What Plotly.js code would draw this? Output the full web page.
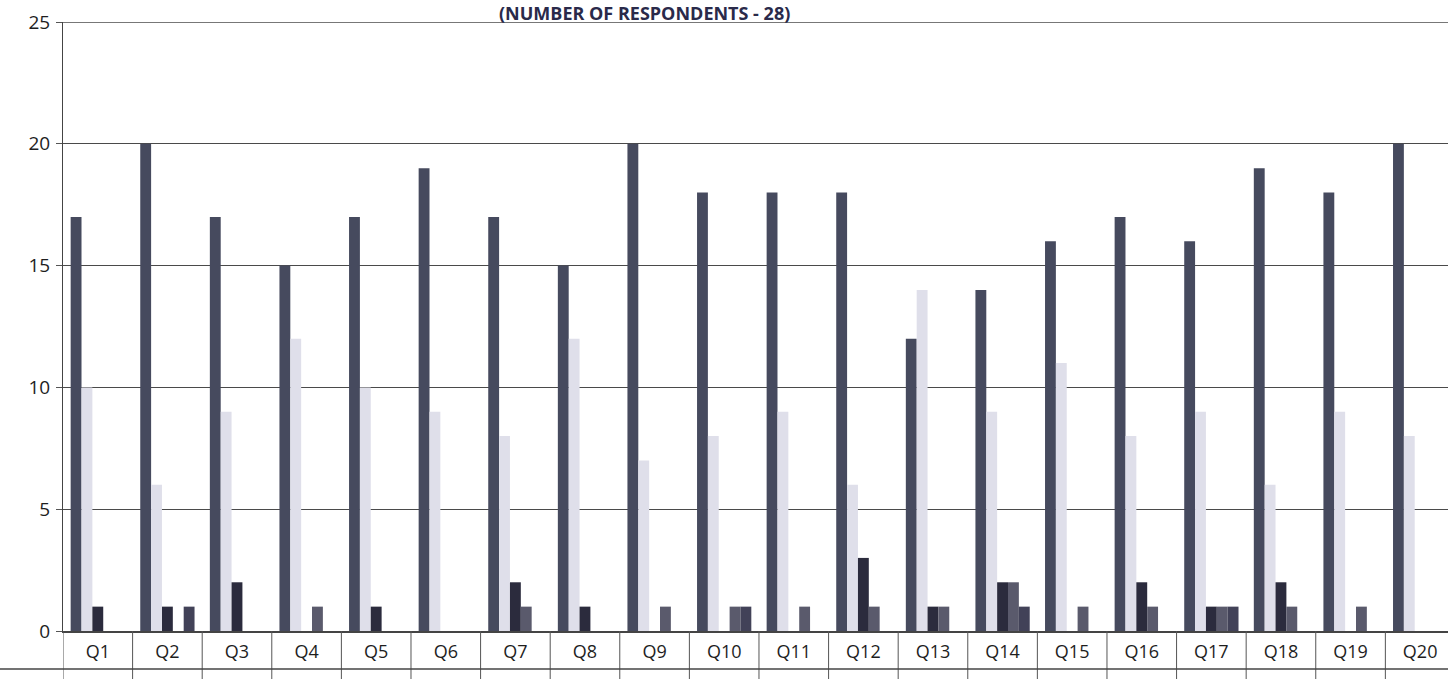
<!DOCTYPE html>
<html>
<head>
<meta charset="utf-8">
<script src="https://cdn.plot.ly/plotly-3.0.1.min.js"></script>
<style>
  html, body { margin: 0; padding: 0; background: #fff; overflow: hidden; }
  #chart { width: 1448px; height: 679px; }
</style>
</head>
<body>
<div id="chart"></div>
<script>
// ---- data ----
const categories = ["Q1","Q2","Q3","Q4","Q5","Q6","Q7","Q8","Q9","Q10",
                    "Q11","Q12","Q13","Q14","Q15","Q16","Q17","Q18","Q19","Q20"];
const seriesA = [17,20,17,15,17,19,17,15,20,18,18,18,12,14,16,17,16,19,18,20];
const seriesB = [10,6,9,12,10,9,8,12,7,8,9,6,14,9,11,8,9,6,9,8];
const seriesC = [1,1,2,0,1,0,2,1,0,0,0,3,1,2,0,2,1,2,0,0];
const seriesD = [0,0,0,1,0,0,1,0,1,1,1,1,1,2,1,1,1,1,1,0];
const seriesE = [0,1,0,0,0,0,0,0,0,1,0,0,0,1,0,0,1,0,0,0];
const yTicks = [0,5,10,15,20,25];
const titleText = "(NUMBER OF RESPONDENTS - 28)";

const colors = ["#464a5e", "#dfdfea", "#2b2b3d", "#5a5a6c", "#424258"];
const allSeries = [seriesA, seriesB, seriesC, seriesD, seriesE];

const traces = allSeries.map((vals, i) => ({
  type: "bar",
  x: categories,
  y: vals,
  marker: { color: colors[i], line: { width: 0 } },
  hoverinfo: "skip"
}));

// table-like dividers under the axis
const shapes = [];
for (let i = -1; i < categories.length; i++) {
  shapes.push({
    type: "line", xref: "x", yref: "paper",
    x0: i + 0.5, x1: i + 0.5, y0: 0, y1: -0.085,
    line: { color: "#555", width: 1 }
  });
}
shapes.push({
  type: "line", xref: "paper", yref: "paper",
  x0: -0.05, x1: 1, y0: -0.0625, y1: -0.0625,
  line: { color: "#444", width: 1.5 }
});
shapes.push({
  type: "line", xref: "paper", yref: "y",
  x0: 0, x1: 1, y0: 25, y1: 25,
  line: { color: "#4a4a4a", width: 1.3 }
});

const layout = {
  width: 1448, height: 679,
  margin: { l: 63, r: 0, t: 22, b: 48, pad: 0 },
  paper_bgcolor: "#ffffff",
  plot_bgcolor: "#ffffff",
  showlegend: false,
  barmode: "group",
  bargap: 0.22,
  bargroupgap: 0,
  font: { family: "Open Sans, Liberation Sans, sans-serif", color: "#222" },
  xaxis: {
    type: "category",
    range: [-0.5, 19.4],
    showgrid: false,
    showline: true, linecolor: "#444", linewidth: 1.5,
    ticks: "", ticklabelstandoff: 4,
    tickfont: { size: 18, color: "#1e1e1e" },
    fixedrange: true
  },
  yaxis: {
    range: [0, 25],
    tickvals: yTicks,
    showgrid: true, gridcolor: "#4a4a4a", gridwidth: 1.3,
    zeroline: false,
    showline: true, linecolor: "#444", linewidth: 1,
    ticks: "outside", ticklen: 6, tickcolor: "#555",
    ticklabelstandoff: 2,
    tickfont: { size: 19, color: "#1e1e1e" },
    fixedrange: true
  },
  shapes: shapes,
  annotations: [{
    text: "<b>" + titleText + "</b>",
    xref: "paper", yref: "paper",
    x: 0.42, y: 1.0148, xanchor: "center", yanchor: "middle",
    borderpad: 0,
    showarrow: false,
    font: { size: 18, color: "#2a2a4a", family: "Open Sans, Liberation Sans, sans-serif" }
  }]
};

Plotly.newPlot("chart", traces, layout, { displayModeBar: false, staticPlot: true });
</script>
</body>
</html>
